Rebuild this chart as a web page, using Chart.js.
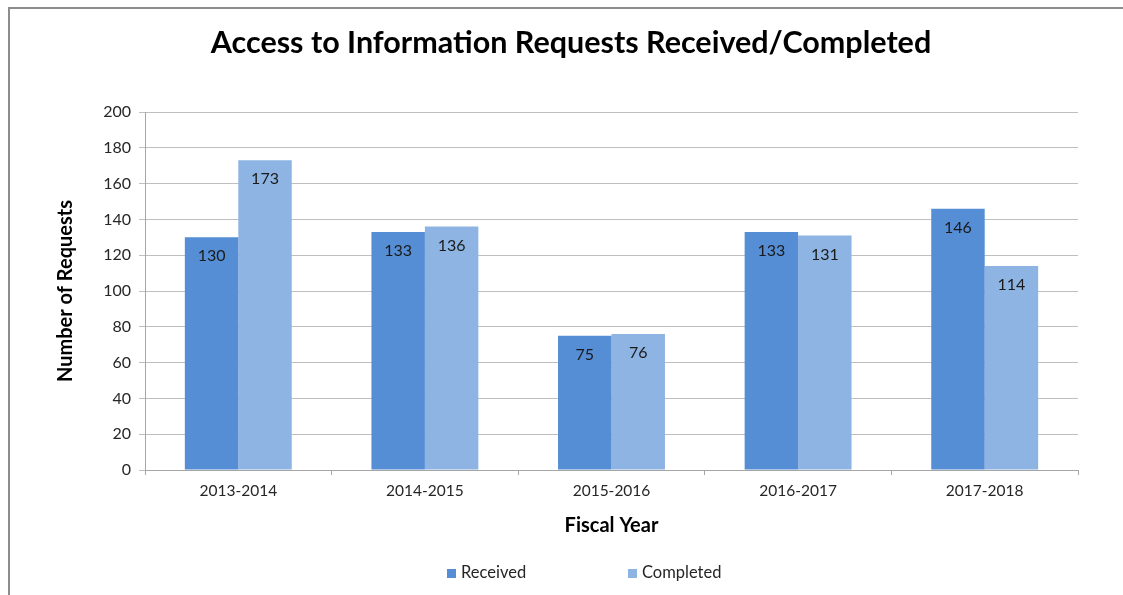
<!DOCTYPE html>
<html>
<head>
<meta charset="utf-8">
<script src="https://cdn.jsdelivr.net/npm/chart.js@4"></script>
<style>
  html, body { margin: 0; padding: 0; background: #fff; }
  #wrap { position: relative; width: 1123px; height: 595px; overflow: hidden; }
  #frame { position: absolute; left: 8px; top: 7px; width: 1200px; height: 700px; border: 2px solid #8c8c8c; box-sizing: border-box; }
  canvas { position: absolute; left: 0; top: 0; }
</style>
</head>
<body>
<div id="wrap">
  <div id="frame"></div>
  <canvas id="requestsChart" width="1123" height="595"></canvas>
</div>
<script>
const fiscalYears = ['2013-2014', '2014-2015', '2015-2016', '2016-2017', '2017-2018'];
const received = [130, 133, 75, 133, 146];
const completed = [173, 136, 76, 131, 114];
const yTicks = [0, 20, 40, 60, 80, 100, 120, 140, 160, 180, 200];

const FONT = 'Lato, "Liberation Sans", sans-serif';

// values drawn inside the top of each bar
const barLabels = {
    id: 'barLabels',
    afterDatasetsDraw(chart) {
        const ctx = chart.ctx;
        ctx.save();
        ctx.font = '16px ' + FONT;
        ctx.fillStyle = '#1a1a1a';
        ctx.textAlign = 'center';
        ctx.textBaseline = 'middle';
        chart.data.datasets.forEach((ds, i) => {
            chart.getDatasetMeta(i).data.forEach((bar, j) => {
                ctx.fillText(ds.data[j], bar.x, bar.y + 19);
            });
        });
        ctx.restore();
    }
};

// legend spaced out like the original
const wideLegend = {
    id: 'wideLegend',
    afterDraw(chart) {
        const ctx = chart.ctx;
        const starts = [447, 628];
        ctx.save();
        ctx.font = '16.5px ' + FONT;
        ctx.textBaseline = 'middle';
        chart.data.datasets.forEach((ds, i) => {
            const x = starts[i];
            ctx.fillStyle = ds.backgroundColor;
            ctx.fillRect(x, 569, 9, 9);
            ctx.fillStyle = '#262626';
            ctx.fillText(ds.label, x + 14, 573);
        });
        ctx.restore();
    }
};

// the title sits a bit right of the canvas centre in the original
const shiftTitle = {
    id: 'shiftTitle',
    afterLayout(chart) {
        if (chart.titleBlock) {
            chart.titleBlock.left = 19;
            chart.titleBlock.right = 1123;
        }
    }
};

const ctx = document.getElementById('requestsChart').getContext('2d');
new Chart(ctx, {
    type: 'bar',
    data: {
        labels: fiscalYears,
        datasets: [{
            label: 'Received',
            data: received,
            backgroundColor: '#558ed5'
        }, {
            label: 'Completed',
            data: completed,
            backgroundColor: '#8eb4e3'
        }]
    },
    options: {
        responsive: false,
        animation: false,
        devicePixelRatio: 1,
        categoryPercentage: 0.573,
        barPercentage: 1,
        layout: { padding: { left: 8, right: 45, top: 0, bottom: 40 } },
        plugins: {
            legend: { display: false },
            tooltip: { enabled: false },
            title: {
                display: true,
                text: 'Access to Information Requests Received/Completed',
                color: '#000',
                font: { family: FONT, size: 30.5, weight: 'bold', lineHeight: 1.2 },
                padding: { top: 25, bottom: 50.4 }
            }
        },
        scales: {
            x: {
                afterFit: s => { s.height = 85; },
                grid: { drawOnChartArea: false, drawTicks: true, tickLength: 5, color: '#a6a6a6' },
                border: { color: '#a6a6a6' },
                ticks: { color: '#262626', font: { family: FONT, size: 15.5 }, padding: 7 },
                title: {
                    display: true,
                    text: 'Fiscal Year',
                    color: '#000',
                    font: { family: FONT, size: 20, weight: 'bold', lineHeight: 1.2 },
                    padding: { top: 0, bottom: 17 }
                }
            },
            y: {
                min: 0,
                max: 200,
                afterFit: s => { s.width = 137; },
                afterBuildTicks: s => { s.ticks = yTicks.map(v => ({ value: v })); },
                grid: { color: '#bfbfbf', tickLength: 6 },
                border: { color: '#a6a6a6' },
                ticks: { color: '#262626', font: { family: FONT, size: 16 }, padding: 8 },
                title: {
                    display: true,
                    text: 'Number of Requests',
                    color: '#000',
                    font: { family: FONT, size: 20, weight: 'bold', lineHeight: 1.2 },
                    padding: { top: 46, bottom: 0 }
                }
            }
        }
    },
    plugins: [barLabels, wideLegend, shiftTitle]
});
</script>
</body>
</html>
